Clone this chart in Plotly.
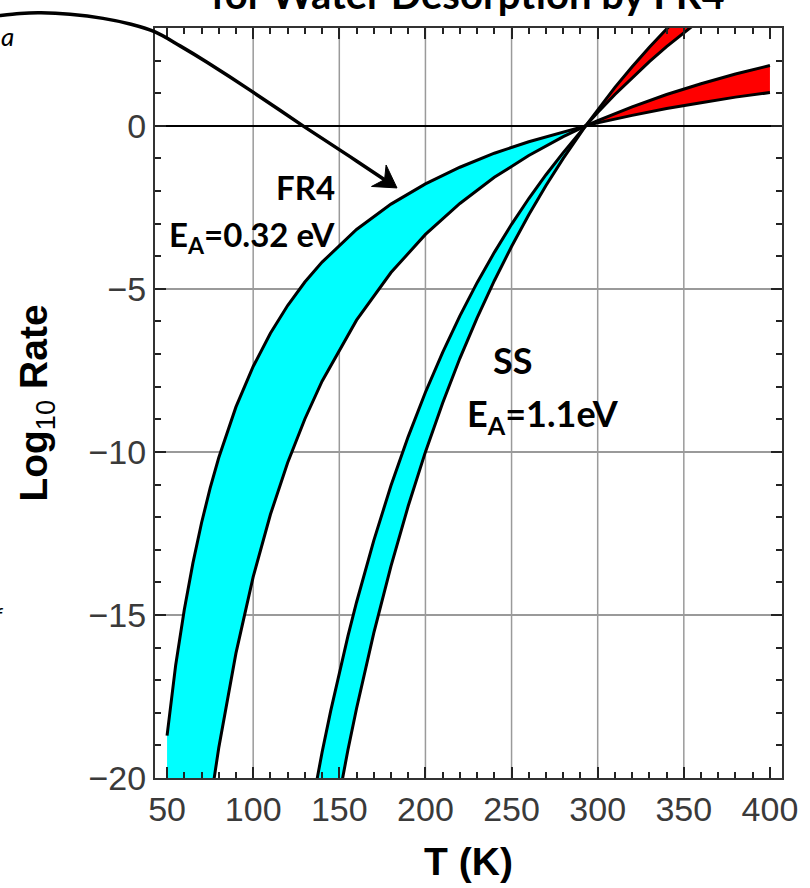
import plotly.graph_objects as go

# ---------------- data ----------------
# FR4 band, T below the crossing point (cyan)
T_FR4_COLD = [50, 55, 60, 65, 70, 75, 80, 90, 100, 110, 120, 130, 140, 160, 180, 200, 220, 240, 260, 280, 293]
FR4_COLD_HI = [-18.70, -16.54, -14.84, -13.41, -12.18, -11.11, -10.18, -8.62, -7.38, -6.36, -5.51,
               -4.79, -4.18, -3.18, -2.40, -1.78, -1.27, -0.84, -0.49, -0.18, 0.0]
FR4_COLD_LO = [-34.83, -31.01, -27.83, -25.14, -22.83, -20.83, -19.08, -16.17, -13.83, -11.92, -10.33,
               -8.99, -7.83, -5.96, -4.50, -3.33, -2.38, -1.58, -0.91, -0.33, 0.0]
# FR4 band, T above the crossing point (red)
T_FR4_WARM = [293, 300, 320, 340, 360, 380, 400]
FR4_WARM_HI = [0.0, 0.16, 0.58, 0.96, 1.29, 1.59, 1.85]
FR4_WARM_LO = [0.0, 0.09, 0.32, 0.53, 0.71, 0.88, 1.02]
# SS band, cold side (cyan)
T_SS_COLD = [130, 135, 140, 145, 150, 155, 160, 170, 180, 190, 200, 210, 220, 230, 240, 250, 260, 270, 280, 293]
SS_COLD_HI = [-22.04, -20.57, -19.21, -17.94, -16.76, -15.65, -14.61, -12.72, -11.03, -9.53, -8.17,
              -6.95, -5.83, -4.81, -3.88, -3.02, -2.23, -1.50, -0.82, 0.0]
SS_COLD_LO = [-26.96, -25.16, -23.50, -21.95, -20.50, -19.14, -17.87, -15.56, -13.50, -11.66, -10.00,
              -8.50, -7.13, -5.89, -4.75, -3.70, -2.73, -1.83, -1.00, 0.0]
# SS band, warm side (red)
T_SS_WARM = [293, 300, 310, 320, 330, 340, 350, 360]
SS_WARM_HI = [0.0, 0.50, 1.18, 1.81, 2.41, 2.97, 3.50, 4.00]
SS_WARM_LO = [0.0, 0.41, 0.96, 1.48, 1.97, 2.43, 2.86, 3.27]

X_GRID = [100, 150, 200, 250, 300, 350]

# ---------------- layout geometry ----------------
W, H = 810, 888
ML, MR, MT, MB = 155, 28, 28, 105
PW, PH = W - ML - MR, H - MT - MB


def px(x):
    return (x - ML) / PW


def py(y):
    return (H - MB - y) / PH


CYAN = "#00FFFF"
RED = "#FF0000"
EDGE = dict(color="black", width=3)

fig = go.Figure()


def band(t, hi, lo, color):
    fig.add_trace(go.Scatter(x=t, y=hi, mode="lines", line=EDGE, showlegend=False, hoverinfo="skip"))
    fig.add_trace(go.Scatter(x=t, y=lo, mode="lines", line=EDGE, fill="tonexty",
                             fillcolor=color, showlegend=False, hoverinfo="skip"))


band(T_FR4_COLD, FR4_COLD_HI, FR4_COLD_LO, CYAN)
band(T_SS_COLD, SS_COLD_HI, SS_COLD_LO, CYAN)
band(T_FR4_WARM, FR4_WARM_HI, FR4_WARM_LO, RED)
band(T_SS_WARM, SS_WARM_HI, SS_WARM_LO, RED)

TICKFONT = dict(family="Liberation Sans, Arial, sans-serif", size=34, color="#3a3a3a")
TITLEFONT = dict(family="Liberation Sans, Arial, sans-serif", size=39, color="black")

axis_common = dict(
    showline=True, linecolor="#333333", linewidth=2, mirror="allticks",
    ticks="inside", ticklen=11, tickwidth=2, tickcolor="#222222",
    tickfont=TICKFONT,
)

fig.update_xaxes(
    range=[43, 407], tickmode="linear", tick0=50, dtick=50, showgrid=False, zeroline=False,
    minor=dict(ticks="inside", ticklen=6, tickwidth=1.5, tickcolor="#222222", tick0=50, dtick=10, showgrid=False),
    title=dict(text="<b>T (K)</b>", font=TITLEFONT, standoff=21),
    **axis_common,
)
fig.update_yaxes(
    range=[-20, 3], tickmode="linear", tick0=0, dtick=5,
    showgrid=True, gridcolor="#9a9a9a", gridwidth=1.5,
    zeroline=True, zerolinecolor="black", zerolinewidth=2,
    minor=dict(ticks="inside", ticklen=6, tickwidth=1.5, tickcolor="#222222", tick0=0, dtick=1, showgrid=False),
    title=dict(text="<b>Log</b><sub>10</sub><b> Rate</b>", font=TITLEFONT, standoff=29),
    **axis_common,
)

shapes = []
for g in X_GRID:
    shapes.append(dict(type="line", xref="x", yref="paper", x0=g, x1=g, y0=0, y1=1,
                       layer="below", line=dict(color="#9a9a9a", width=1.5)))


# curved arrow (decoration): smooth Catmull-Rom curve through pixel waypoints
def smooth_path(pts):
    p = [pts[0]] + pts + [pts[-1]]
    d = f"M {px(pts[0][0]):.5f},{py(pts[0][1]):.5f}"
    for i in range(1, len(p) - 2):
        x0, y0 = p[i - 1]
        x1, y1 = p[i]
        x2, y2 = p[i + 1]
        x3, y3 = p[i + 2]
        c1 = (x1 + (x2 - x0) / 6, y1 + (y2 - y0) / 6)
        c2 = (x2 - (x3 - x1) / 6, y2 - (y3 - y1) / 6)
        d += (f" C {px(c1[0]):.5f},{py(c1[1]):.5f} {px(c2[0]):.5f},{py(c2[1]):.5f}"
              f" {px(x2):.5f},{py(y2):.5f}")
    return d


arrow_pts = [(-4, 16.0), (20, 13.3), (41, 12.6), (70, 14.2), (103, 18.3), (130, 24.0), (155, 32.0),
             (180, 46.0), (207, 62.5), (250, 90.5), (303, 126.5), (350, 157.5), (385, 181.0)]
shapes.append(dict(type="path", xref="paper", yref="paper", path=smooth_path(arrow_pts),
                   line=dict(color="black", width=3.5)))
head = [(397, 189), (371.5, 187.5), (384.6, 180.6), (386.1, 165.9)]
hpath = "M " + " L ".join(f"{px(a):.5f},{py(b):.5f}" for a, b in head) + " Z"
shapes.append(dict(type="path", xref="paper", yref="paper", path=hpath,
                   fillcolor="black", line=dict(color="black", width=1)))

LABEL = dict(family="Lato, sans-serif", size=33, color="black")
LABEL_SS = dict(family="Lato, sans-serif", size=36, color="black")
annotations = [
    dict(text="<b>FR4</b>", x=px(337), y=py(188), xanchor="right", yanchor="middle", font=LABEL),
    dict(text="<b>E<sub>A</sub>=0.32 eV</b>", x=px(337), y=py(238), xanchor="right", yanchor="middle", font=LABEL),
    dict(text="<b>SS</b>", x=px(513), y=py(362), xanchor="center", yanchor="middle", font=LABEL_SS),
    dict(text="<b>E<sub>A</sub>=1.1eV</b>", x=px(465), y=py(418), xanchor="left", yanchor="middle", font=LABEL_SS),
    dict(text="<b>for Water Desorption by FR4</b>", x=px(727), y=py(20), xanchor="right", yanchor="bottom",
         font=dict(family="Lato, sans-serif", size=40, color="black")),
    dict(text="<i>a</i>", x=px(-1), y=py(36), xanchor="left", yanchor="middle",
         font=dict(family="Lato, sans-serif", size=26, color="black")),
    dict(text="<i>f</i>", x=px(6), y=py(618), xanchor="right", yanchor="middle",
         font=dict(family="Lato, sans-serif", size=22, color="black")),
]
for a in annotations:
    a.update(xref="paper", yref="paper", showarrow=False)

fig.update_layout(
    width=W, height=H, autosize=False,
    margin=dict(l=ML, r=MR, t=MT, b=MB, pad=0),
    paper_bgcolor="white", plot_bgcolor="white",
    shapes=shapes, annotations=annotations,
    showlegend=False,
)

fig.write_html("out.html", config={"displayModeBar": False},
               post_script="document.body.style.margin='0px';")
